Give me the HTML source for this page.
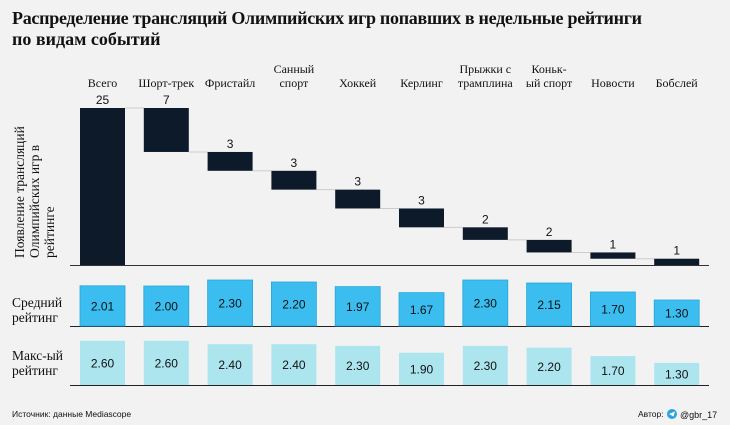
<!DOCTYPE html>
<html><head><meta charset="utf-8"><style>
html,body{margin:0;padding:0;background:#f2f2f2;}
svg{display:block;}
.ser{font-family:"Liberation Serif","Noto Serif CJK SC",serif;}
.san{font-family:"Liberation Sans","Noto Sans CJK SC",sans-serif;}
</style></head><body>
<svg id="c" width="730" height="425" viewBox="0 0 730 425">
<rect width="730" height="425" fill="#f2f2f2"/>
<text class="ser" x="12" y="24" font-size="18" font-weight="bold" fill="#111" textLength="630">Распределение трансляций Олимпийских игр попавших в недельные рейтинги</text>
<text class="ser" x="12" y="45" font-size="18" font-weight="bold" fill="#111">по видам событий</text>
<g class="ser" font-size="13.5" fill="#111">
<text transform="translate(24,258) rotate(-90)">Появление трансляций</text>
<text transform="translate(39,258) rotate(-90)">Олимпийских игр в</text>
<text transform="translate(54,258) rotate(-90)">рейтинге</text>
</g>
<text class="ser" x="12" y="307" font-size="13.5" fill="#111">Средний</text>
<text class="ser" x="12" y="322" font-size="13.5" fill="#111">рейтинг</text>
<text class="ser" x="12" y="360" font-size="13.5" fill="#111">Макс-ый</text>
<text class="ser" x="12" y="375" font-size="13.5" fill="#111">рейтинг</text>
<text class="san" x="12" y="417" font-size="8.5" fill="#111">Источник: данные Mediascope</text>
<g>
<text class="san" x="638" y="417" font-size="8.5" fill="#111">Автор:</text>
<circle cx="672" cy="414" r="5" fill="#2aa3e0"/>
<path d="M669 414 l6 -2.5 l-1.5 5 z" fill="#fff"/>
<text class="san" x="680" y="418" font-size="9" fill="#111">@gbr_17</text>
</g>
<g id="g"></g>
</svg>
<script>
const categories=[["Всего"],["Шорт-трек"],["Фристайл"],["Санный","спорт"],["Хоккей"],["Керлинг"],["Прыжки с","трамплина"],["Коньк-","ый спорт"],["Новости"],["Бобслей"]];
const counts=[25,7,3,3,3,3,2,2,1,1];
const meanRating=[2.01,2.00,2.30,2.20,1.97,1.67,2.30,2.15,1.70,1.30];
const maxRating=[2.60,2.60,2.40,2.40,2.30,1.90,2.30,2.20,1.70,1.30];

const NS="http://www.w3.org/2000/svg";
const g=document.getElementById('g');
function el(t,a,p){const e=document.createElementNS(NS,t);for(const k in a)e.setAttribute(k,a[k]);(p||g).appendChild(e);return e;}
const x0=80,step=63.8,bw=45;
function xPos(i){return x0+i*step;}
const wfBase=265,wfScale=157/25;
function yWf(v){return wfBase-v*wfScale;}
const meanBase=326,meanScale=20;
const maxBase=385,maxScale=17;

let a=el('line',{x1:70,x2:709,y1:wfBase+0.5,y2:wfBase+0.5,stroke:'#333','stroke-width':1});

a=el('line',{x1:70,x2:709,y1:meanBase+0.5,y2:meanBase+0.5,stroke:'#222','stroke-width':1});

a=el('line',{x1:70,x2:709,y1:maxBase+0.5,y2:maxBase+0.5,stroke:'#222','stroke-width':1});


let cum=counts[0];
for(let i=0;i<categories.length;i++){
  const x=xPos(i),cx=x+bw/2;
  const lines=categories[i];
  lines.forEach((ln,j)=>{
    const t=el('text',{x:cx,y:87-(lines.length-1-j)*14,'text-anchor':'middle','font-size':12,fill:'#111',class:'ser'});
    t.textContent=ln;
    
    
  });
  let top,bot;
  if(i===0){top=counts[0];bot=0;}else{top=cum;bot=cum-counts[i];cum=bot;}
  const r=el('rect',{x:x,y:yWf(top),width:bw,height:yWf(bot)-yWf(top),fill:'#0c1a2a'});
  
  
  if(i<categories.length-1){
    const ln=el('line',{x1:x+bw,x2:xPos(i+1),y1:yWf(i===0?top:bot),y2:yWf(i===0?top:bot),stroke:'#ccc','stroke-width':1});
    
    
  }
  const vt=el('text',{x:cx,y:yWf(top)-4,'text-anchor':'middle','font-size':12,fill:'#111',class:'san'});
  vt.textContent=counts[i];
  
  
  const mh=meanRating[i]*meanScale;
  const mr=el('rect',{x:x,y:meanBase-mh,width:bw,height:mh,fill:'#3bbdf0',stroke:'#2aa6d8','stroke-width':0.8});
  
  
  const mt=el('text',{x:cx,y:meanBase-mh/2+4.5,'text-anchor':'middle','font-size':12,fill:'#111',class:'san'});
  mt.textContent=meanRating[i].toFixed(2);
  
  
  const xh=maxRating[i]*maxScale;
  const xr=el('rect',{x:x,y:maxBase-xh,width:bw,height:xh,fill:'#ade5ef'});
  
  
  const xt=el('text',{x:cx,y:maxBase-xh/2+4.5,'text-anchor':'middle','font-size':12,fill:'#111',class:'san'});
  xt.textContent=maxRating[i].toFixed(2);
  
  
}
</script>
</body></html>
